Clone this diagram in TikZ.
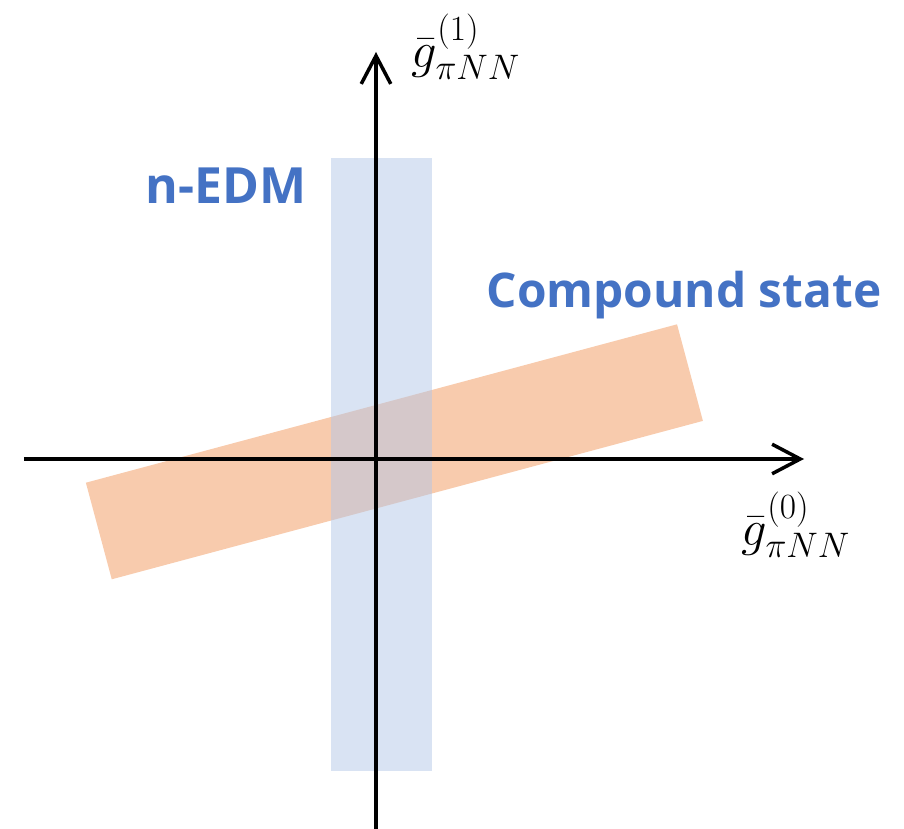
\RequirePackage{fix-cm}
\documentclass[tikz,border=0pt]{standalone}
\usepackage{amsmath}
\usepackage{fontspec}
\setsansfont{Open Sans}[BoldFont={Open Sans Bold}]
\usetikzlibrary{arrows.meta,positioning}
\definecolor{edmcolor}{HTML}{B4C7E7}
\definecolor{cscolor}{HTML}{F8CBAD}
\definecolor{labelcolor}{HTML}{4472C4}
\tikzset{
  band/.style={rectangle, inner sep=0pt, draw=none},
  axis/.style={line width=2.5pt, -{Straight Barb[length=20pt, width=21pt]}},
  bandlabel/.style={labelcolor, font=\sffamily\bfseries\fontsize{34}{40}\selectfont},
  axislabel/.style={font=\fontsize{36}{42}\selectfont}
}

\begin{document}
\begin{tikzpicture}
    \useasboundingbox (-9.4,-9.25) rectangle (13.2,11.475);
    % compound state band
    \node[band, fill=cscolor, minimum width=15.3cm, minimum height=2.5cm, rotate=15] (cs) at (0.46,0.18) {};
    % n-EDM band
    \node[band, fill=edmcolor, fill opacity=0.5, minimum width=2.525cm, minimum height=15.325cm] (edm) at (0.1375,-0.1375) {};
    % axes
    \coordinate (xl) at (-8.8,0);
    \coordinate (xr) at (10.7,0);
    \coordinate (yb) at (0,-9.3);
    \coordinate (yt) at (0,10.175);
    \draw[axis] (xl) -- (xr);
    \draw[axis] (yb) -- (yt);
    \node[axislabel] (g0) at (10.5,-1.65) {$\bar{g}^{(0)}_{\pi NN}$};
    \node[axislabel] (g1) at (2.25,10.3) {$\bar{g}^{(1)}_{\pi NN}$};
    % labels
    \node[bandlabel, font=\sffamily\bfseries\fontsize{35.5}{40}\selectfont] (edmlabel) at (-3.75,6.825) {n-EDM};
    \node[bandlabel] (cslabel) at (7.7,4.1) {Compound state};
\end{tikzpicture}
\end{document}
